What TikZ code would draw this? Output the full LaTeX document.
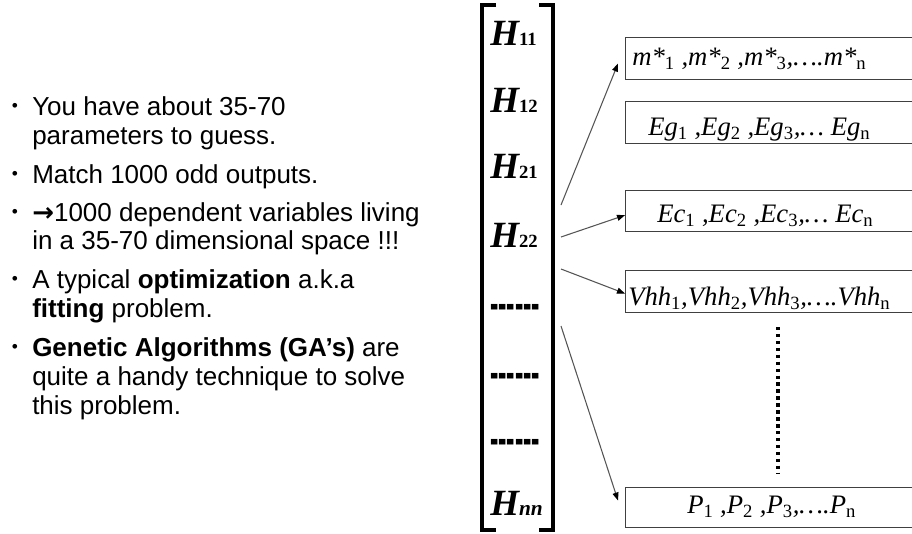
\documentclass[tikz,border=0pt]{standalone}
\usepackage{fontspec}
\setmainfont{Liberation Sans}
\newfontfamily\tnr{Liberation Serif}
\newfontfamily\djv{DejaVu Sans}
\usepackage{graphicx}
\usepackage{tikz}
\usetikzlibrary{positioning,arrows.meta,calc}
\definecolor{LineGrey}{HTML}{555555}
\definecolor{BoxEdge}{HTML}{404040}
\newcommand{\sbs}[1]{\textsubscript{\upshape #1}}
\newcommand{\Hent}[1]{{\bfseries\itshape H}{\fontsize{14}{16}\selectfont\bfseries #1}}

\begin{document}
\begin{tikzpicture}[x=0.75pt,y=-0.75pt,
    every node/.style={inner sep=0pt},
    item/.style={anchor=base west, font=\fontsize{19.5}{21.75}\selectfont},
    dotitem/.style={font=\fontsize{13}{15}\selectfont},
    hent/.style={anchor=base west, font=\tnr\fontsize{27.75}{30}\selectfont},
    dashrow/.style={font=\tnr\bfseries\fontsize{18.75}{20}\selectfont},
    outbox/.style={draw=BoxEdge, line width=0.8pt, anchor=north west, minimum width=225pt},
    outtxt/.style={anchor=base west, font=\tnr\fontsize{20}{22}\selectfont\itshape},
    brk/.style={line width=2.6pt},
    vdots/.style={line width=2.6pt, dash pattern=on 2.6pt off 2.6pt},
    ar/.style={-{Triangle[length=6pt,width=4.5pt,color=black]}, draw=LineGrey, line width=0.8pt}]
  \useasboundingbox (0,0) rectangle (912,533);
  \clip (0,0) rectangle (912,533);

  % bullet list
  \node[dotitem] (b1) at (15,107) {\textbullet};
  \node[item] (l1) at (32,115) {You have about 35-70};
  \node[item] (l2) at (32,144) {parameters to guess.};
  \node[dotitem] (b2) at (15,175) {\textbullet};
  \node[item] (l3) at (32,183) {Match 1000 odd outputs.};
  \node[dotitem] (b3) at (15,213) {\textbullet};
  \node[item] (l4) at (32,221) {{\djv\bfseries →}1000 dependent variables living};
  \node[item] (l5) at (32,249) {in a 35-70 dimensional space !!!};
  \node[dotitem] (b4) at (15,280) {\textbullet};
  \node[item] (l6) at (32,288) {A typical \textbf{optimization} a.k.a};
  \node[item] (l7) at (32,317) {\textbf{fitting} problem.};
  \node[dotitem] (b5) at (15,348) {\textbullet};
  \node[item] (l8) at (32,356) {\textbf{Genetic Algorithms (GA’s)} are};
  \node[item] (l9) at (32,385) {quite a handy technique to solve};
  \node[item] (l10) at (32,414) {this problem.};

  % matrix column
  \draw[brk] (496,5) -- (482,5) -- (482,530) -- (496,530);
  \draw[brk] (539,5) -- (553,5) -- (553,530) -- (539,530);
  \node[hent] (h11) at (490,45) {\Hent{11}};
  \node[hent] (h12) at (490,112) {\Hent{12}};
  \node[hent] (h21) at (490,178) {\Hent{21}};
  \node[hent] (h22) at (490,247) {\Hent{22}};
  \node[dashrow] (d1) at (515,313) {\scalebox{1}[2.6]{-{}-{}-{}-{}-{}-}};
  \node[dashrow] (d2) at (515,382) {\scalebox{1}[2.6]{-{}-{}-{}-{}-{}-}};
  \node[dashrow] (d3) at (515,448) {\scalebox{1}[2.6]{-{}-{}-{}-{}-{}-}};
  \node[hent] (hnn) at (490,515) {{\bfseries\itshape H}{\fontsize{16}{18}\selectfont\bfseries\itshape nn}};

  % output boxes
  \node[outbox, minimum height=31.5pt] (mbox) at (625,37) {};
  \node[outtxt] (mtxt) at (632,65) {m*\sbs{1} ,m*\sbs{2} ,m*\sbs{3},….m*\sbs{n}};
  \node[outbox, minimum height=31.5pt] (gbox) at (625,101) {};
  \node[outtxt] (gtxt) at (648,135) {Eg\sbs{1} ,Eg\sbs{2} ,Eg\sbs{3},… Eg\sbs{n}};
  \node[outbox, minimum height=31pt] (cbox) at (625,190) {};
  \node[outtxt] (ctxt) at (657,222) {Ec\sbs{1} ,Ec\sbs{2} ,Ec\sbs{3},… Ec\sbs{n}};
  \node[outbox, minimum height=31.5pt] (vbox) at (625,270) {};
  \node[outtxt] (vtxt) at (628,305) {Vhh\sbs{1},Vhh\sbs{2},Vhh\sbs{3},….Vhh\sbs{n}};
  \node[outbox, minimum height=30pt] (pbox) at (625,487) {};
  \node[outtxt] (ptxt) at (687,513) {P\sbs{1} ,P\sbs{2} ,P\sbs{3},….P\sbs{n}};

  \coordinate (vtop) at (778,327);
  \coordinate (vbot) at (778,473);
  \draw[vdots] (vtop) -- (vbot);

  % arrows out of the matrix
  \coordinate (o1) at (561,205);
  \coordinate (o2) at (561,237);
  \coordinate (o3) at (561,269);
  \coordinate (o4) at (561,326);
  \draw[ar] (o1) -- ([shift={(-7,5)}]mbox.west);
  \draw[ar] (o2) -- ([shift={(0,4)}]cbox.west);
  \draw[ar] (o3) -- ([shift={(0,2)}]vbox.west);
  \draw[ar] (o4) -- ([shift={(-7,-7)}]pbox.west);
\end{tikzpicture}
\end{document}
